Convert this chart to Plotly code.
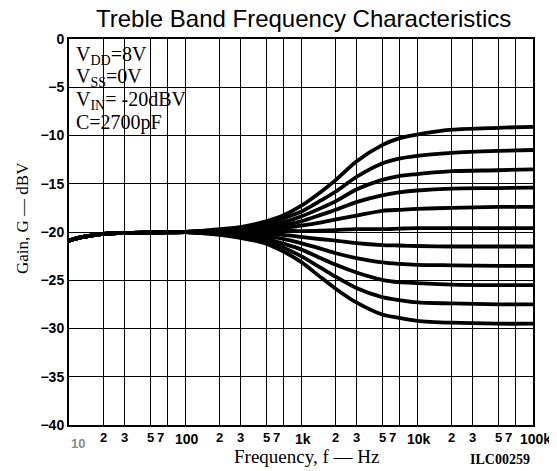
import math
import plotly.graph_objects as go

# ---------------- data ----------------
freq = [10, 12, 15, 20, 30, 50, 100, 200, 300, 500, 700, 1000, 1500, 2000,
        3000, 5000, 7000, 10000, 20000, 50000, 100000]

low_part = [-20.9, -20.6, -20.4, -20.2, -20.1, -20.05, -20.0]

curve_1 = low_part + [-19.7, -19.5, -18.9, -18.3, -17.3, -15.8, -14.6, -12.7, -11.0, -10.3, -9.9, -9.4, -9.2, -9.1]
curve_2 = low_part + [-19.8, -19.6, -19.2, -18.6, -17.9, -16.7, -15.8, -14.3, -12.9, -12.4, -12.1, -11.8, -11.6, -11.5]
curve_3 = low_part + [-19.8, -19.7, -19.4, -19.0, -18.4, -17.5, -16.8, -15.6, -14.6, -14.2, -14.0, -13.7, -13.6, -13.5]
curve_4 = low_part + [-19.9, -19.8, -19.5, -19.3, -18.9, -18.2, -17.7, -16.9, -16.2, -15.9, -15.7, -15.5, -15.45, -15.4]
curve_5 = low_part + [-19.9, -19.9, -19.7, -19.6, -19.35, -19.0, -18.7, -18.3, -17.8, -17.7, -17.6, -17.5, -17.4, -17.4]
curve_6 = low_part + [-20.0, -20.0, -20.0, -19.9, -19.9, -19.85, -19.8, -19.7, -19.7, -19.65, -19.6, -19.6, -19.6, -19.6]
curve_7 = low_part + [-20.05, -20.1, -20.2, -20.3, -20.5, -20.75, -20.9, -21.15, -21.35, -21.4, -21.45, -21.5, -21.5, -21.5]
curve_8 = low_part + [-20.1, -20.2, -20.45, -20.7, -21.15, -21.75, -22.2, -22.7, -23.15, -23.3, -23.4, -23.45, -23.5, -23.5]
curve_9 = low_part + [-20.2, -20.3, -20.7, -21.2, -21.8, -22.75, -23.4, -24.2, -24.95, -25.2, -25.3, -25.45, -25.5, -25.5]
curve_10 = low_part + [-20.2, -20.45, -21.0, -21.6, -22.5, -23.75, -24.65, -25.8, -26.75, -27.05, -27.3, -27.4, -27.5, -27.5]
curve_11 = low_part + [-20.3, -20.6, -21.2, -22.0, -23.1, -24.75, -25.9, -27.3, -28.55, -28.9, -29.2, -29.4, -29.5, -29.5]

curves = [curve_1, curve_2, curve_3, curve_4, curve_5, curve_6,
          curve_7, curve_8, curve_9, curve_10, curve_11]

grid_freqs = [10, 20, 30, 50, 70, 100, 200, 300, 500, 700, 1000, 2000, 3000,
              5000, 7000, 10000, 20000, 30000, 50000, 70000, 100000]

x_digit_vals = [20, 30, 50, 70, 200, 300, 500, 700, 2000, 3000, 5000, 7000,
                20000, 30000, 50000, 70000]
x_digit_text = ["2", "3", "5", "7", "2", "3", "5", "7", "2", "3", "5", "7",
                "2", "3", "5", "7"]
x_decade_vals = [100, 1000, 10000, 100000]
x_decade_text = ["100", "1k", "10k", "100k"]

y_tick_vals = [0, -5, -10, -15, -20, -25, -30, -35, -40]
y_tick_text = ["0", "\u22125", "\u221210", "\u221215", "\u221220", "\u221225",
               "\u221230", "\u221235", "\u221240"]

title_text = "Treble Band Frequency Characteristics"
legend_lines = ["V<sub>DD</sub>=8V", "V<sub>SS</sub>=0V",
                "V<sub>IN</sub>= -20dBV", "C=2700pF"]

# ---------------- figure ----------------
OFF = 8  # page body margin of the html page
W, H = 557 - OFF, 471 - OFF
PL, PR, PT, PB = 69, 533, 39, 425   # plot area in reference pixels
L, T = PL - OFF, PT - OFF
R, B = 557 - PR, 471 - PB
pw, ph = PR - PL, PB - PT


def px_x(p):
    return (p - PL) / pw


def px_y(p):
    return (PB - p) / ph


fig = go.Figure()
for c in curves:
    fig.add_trace(go.Scatter(x=freq, y=c, mode="lines",
                             line=dict(color="black", width=3.8, shape="spline", smoothing=0.8),
                             hoverinfo="skip", showlegend=False))

fig.update_layout(
    width=W, height=H,
    margin=dict(l=L, r=R, t=T, b=B, autoexpand=False),
    paper_bgcolor="white", plot_bgcolor="white",
    showlegend=False,
)
fig.update_xaxes(type="log", range=[1, 5], tickvals=grid_freqs, showticklabels=False,
                 ticks="", showgrid=True, gridcolor="black", gridwidth=1.3,
                 showline=True, linecolor="black", linewidth=2, mirror=True,
                 zeroline=False, automargin=False)
fig.update_yaxes(range=[-40, 0], tickvals=y_tick_vals, ticktext=y_tick_text,
                 ticks="", showgrid=True, gridcolor="black", gridwidth=1.3,
                 showline=True, linecolor="black", linewidth=2, mirror=True,
                 zeroline=False, automargin=False,
                 tickfont=dict(family="Liberation Sans", size=14, color="black", weight="bold"))

# white box behind the condition text
fig.add_shape(type="rect", xref="paper", yref="paper",
              x0=px_x(70), x1=px_x(196), y0=px_y(137), y1=px_y(40),
              fillcolor="white", line=dict(width=0), layer="between")

ann = []
ann.append(dict(text=title_text, xref="paper", yref="paper", x=px_x(303), y=px_y(18),
                xanchor="center", yanchor="middle", showarrow=False,
                font=dict(family="Liberation Sans", size=24, color="black")))
ann.append(dict(text="Gain, G \u2014 dBV", xref="paper", yref="paper", x=px_x(22), y=px_y(218),
                xanchor="center", yanchor="middle", showarrow=False, textangle=-90,
                font=dict(family="Liberation Serif", size=17, color="black")))
ann.append(dict(text="Frequency, f \u2014 Hz", xref="paper", yref="paper", x=px_x(306), y=px_y(456),
                xanchor="center", yanchor="middle", showarrow=False,
                font=dict(family="Liberation Serif", size=19, color="black")))
ann.append(dict(text="<b>ILC00259</b>", xref="paper", yref="paper", x=px_x(500), y=px_y(459),
                xanchor="center", yanchor="middle", showarrow=False,
                font=dict(family="Liberation Serif", size=14, color="black")))
ann.append(dict(text="10", xref="x", yref="paper", x=1, y=px_y(443), xshift=9,
                xanchor="center", yanchor="middle", showarrow=False,
                font=dict(family="Liberation Sans", size=13, color="#8a8a8a", weight="bold")))
for v, t in zip(x_digit_vals, x_digit_text):
    ann.append(dict(text=t, xref="x", yref="paper", x=math.log10(v), y=px_y(437),
                    xshift=(-7 if t == "7" else 0),
                    xanchor="center", yanchor="middle", showarrow=False,
                    font=dict(family="Liberation Sans", size=13, color="black", weight="bold")))
for v, t in zip(x_decade_vals, x_decade_text):
    ann.append(dict(text=t, xref="x", yref="paper", x=math.log10(v), y=px_y(439),
                    xshift=2,
                    xanchor="center", yanchor="middle", showarrow=False,
                    font=dict(family="Liberation Sans", size=14, color="black", weight="bold")))
for i, line in enumerate(legend_lines):
    ann.append(dict(text=line, xref="paper", yref="paper", x=px_x(74), y=px_y(55 + 22.5 * i),
                    xanchor="left", yanchor="middle", showarrow=False,
                    font=dict(family="Liberation Serif", size=20, color="black")))
fig.update_layout(annotations=ann)

fig.write_html("out.html")
